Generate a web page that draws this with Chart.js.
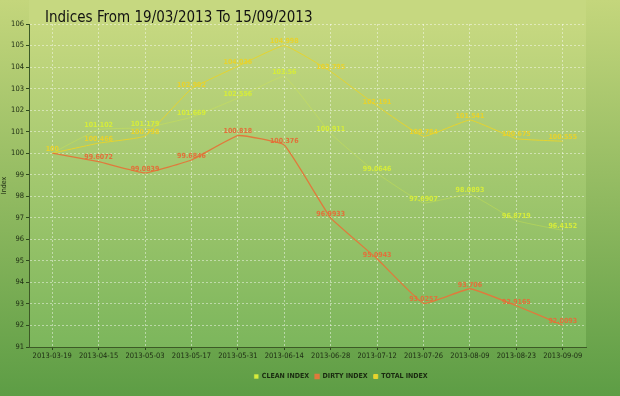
<!DOCTYPE html>
<html>
<head>
<meta charset="utf-8">
<script src="https://cdn.jsdelivr.net/npm/chart.js@4.4.0/dist/chart.umd.min.js"></script>
<style>
html,body{margin:0;padding:0;background:#8fbd5e;}
#wrap{width:620px;height:396px;position:relative;}
</style>
</head>
<body>
<div id="wrap"><canvas id="grafico" width="620" height="396"></canvas></div>
<script>
const FONT = '"DejaVu Sans Condensed", "Liberation Sans Narrow", "Roboto Condensed", "Open Sans", sans-serif';
const TITULO = 'Indices From 19/03/2013 To 15/09/2013';

const fechas = ['2013-03-19','2013-04-15','2013-05-03','2013-05-17','2013-05-31','2013-06-14',
  '2013-06-28','2013-07-12','2013-07-26','2013-08-09','2013-08-23','2013-09-09'];
const cleanIndex = [100, 101.102, 101.179, 101.669, 102.556, 103.560, 100.911, 99.0646, 97.6907, 98.0893, 96.8719, 96.4152];
const dirtyIndex = [100, 99.6072, 99.0839, 99.6846, 100.818, 100.376, 96.9933, 95.0943, 93.0257, 93.706, 92.9165, 92.0093];
const totalIndex = [100, 100.466, 100.798, 102.992, 104.036, 104.998, 103.795, 102.191, 100.784, 101.541, 100.675, 100.555];
const yTicks = [91,92,93,94,95,96,97,98,99,100,101,102,103,104,105,106];

const colores = {
  clean: { line:'rgba(214,236,70,0.35)', label:'#d6ec3a' },
  dirty: { line:'#e07a3c', label:'#e2703a' },
  total: { line:'#e6d42e', label:'#e8d22c' }
};

// fondo degradado + area del grafico
const fondo = {
  id:'fondo',
  beforeDraw(chart){
    const {ctx, width, height, chartArea:a} = chart;
    ctx.save();
    let g = ctx.createLinearGradient(0,0,0,height);
    g.addColorStop(0,'#c4d67c');
    g.addColorStop(1,'#5d9d45');
    ctx.fillStyle = g;
    ctx.fillRect(0,0,width,height);
    g = ctx.createLinearGradient(0,a.top,0,a.bottom);
    g.addColorStop(0,'#c6d880');
    g.addColorStop(1,'#7cb65c');
    ctx.fillStyle = g;
    ctx.fillRect(a.left,0,a.right-a.left,a.bottom);
    ctx.restore();
  },
  afterDraw(chart){
    const ctx = chart.ctx;
    ctx.save();
    ctx.fillStyle = '#111';
    ctx.font = '15px ' + FONT;
    ctx.textBaseline = 'middle';
    ctx.fillText(TITULO, 45, 18);
    ctx.restore();
  }
};

// etiquetas con el valor sobre cada punto
const etiquetas = {
  id:'etiquetas',
  afterDatasetsDraw(chart){
    const ctx = chart.ctx;
    ctx.save();
    ctx.font = 'bold 7px ' + FONT;
    ctx.textAlign = 'center';
    ctx.textBaseline = 'middle';
    chart.data.datasets.forEach((ds,i)=>{
      const meta = chart.getDatasetMeta(i);
      ctx.fillStyle = ds.labelColor;
      meta.data.forEach((p,j)=>{
        if(j===0 && i!==2) return;
        ctx.fillText(String(ds.data[j]), p.x, p.y-4);
      });
    });
    ctx.restore();
  }
};

// mover la leyenda un poco a la derecha, como en el original
const moverLeyenda = {
  id:'moverLeyenda',
  afterLayout(chart){
    if(chart.legend){ chart.legend.left += 48; chart.legend.right += 48; }
  }
};

new Chart(document.getElementById('grafico'), {
  type:'line',
  data:{
    labels:fechas,
    datasets:[
      { label:'CLEAN INDEX', data:cleanIndex, borderColor:colores.clean.line, backgroundColor:colores.clean.label, labelColor:colores.clean.label, borderWidth:1, tension:0.1, pointRadius:0 },
      { label:'DIRTY INDEX', data:dirtyIndex, borderColor:colores.dirty.line, backgroundColor:colores.dirty.line, labelColor:colores.dirty.label, borderWidth:1.3, tension:0.1, pointRadius:0 },
      { label:'TOTAL INDEX', data:totalIndex, borderColor:colores.total.line, backgroundColor:colores.total.line, labelColor:colores.total.label, borderWidth:1, tension:0.1, pointRadius:0 }
    ]
  },
  options:{
    responsive:false,
    animation:false,
    layout:{ padding:{ top:24, right:34, bottom:6, left:0 } },
    plugins:{
      title:{ display:false },
      tooltip:{ enabled:false },
      legend:{
        position:'bottom',
        labels:{ boxWidth:4, boxHeight:4, padding:6, color:'#1a2a10', font:{ size:7, weight:'bold', family:FONT } }
      }
    },
    scales:{
      x:{
        offset:true,
        afterFit:s=>{ s.height = 20; },
        grid:{ color:'rgba(255,255,255,0.45)', tickColor:'#2f4a1e', tickLength:3 },
        border:{ display:true, color:'#3d5a26', width:1, dash:[2,2] },
        ticks:{ color:'#1c2a12', font:{ size:7.5, family:FONT }, maxRotation:0, autoSkip:false, padding:2 }
      },
      y:{
        min:91, max:106,
        afterFit:s=>{ s.width = 29; },
        afterBuildTicks:s=>{ s.ticks = yTicks.map(v=>({ value:v })); },
        grid:{ color:'rgba(255,255,255,0.45)', tickColor:'#2f4a1e', tickLength:3 },
        border:{ display:true, color:'#3d5a26', width:1, dash:[2,2] },
        title:{ display:true, text:'Index', color:'#1c2a12', font:{ size:7, family:FONT }, padding:0 },
        ticks:{ color:'#1c2a12', font:{ size:7.5, family:FONT }, padding:2 }
      }
    }
  },
  plugins:[fondo, etiquetas, moverLeyenda]
});
</script>
</body>
</html>
